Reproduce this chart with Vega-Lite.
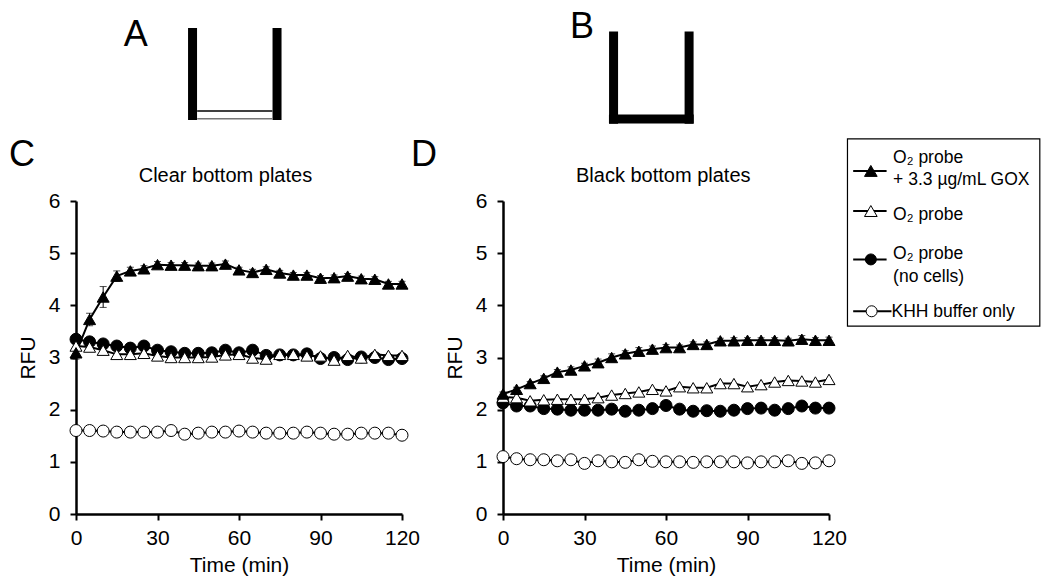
{
  "$schema": "https://vega.github.io/schema/vega-lite/v6.json",
  "padding": {"left": 8, "top": 8, "right": 2, "bottom": 2},
  "background": "white",
  "bounds": "flush",
  "spacing": 101,
  "config": {
    "view": {"stroke": null},
    "font": "Liberation Sans",
    "text": {"font": "Liberation Sans", "color": "black"},
    "axis": {
      "grid": false, "domainColor": "black", "domainWidth": 2.5, "tickColor": "black", "tickWidth": 2, "tickSize": 6,
      "labelFont": "Liberation Sans", "labelFontSize": 21, "labelColor": "black", "labelFlush": false,
      "titleFont": "Liberation Sans", "titleFontSize": 21, "titleFontWeight": "normal", "titleColor": "black"
    },
    "axisX": {"labelPadding": 7, "titlePadding": 6},
    "axisY": {"labelPadding": 10, "titlePadding": 10}
  },
  "data": {"values": [
    {"plate":"clear","t":0,"gox":3.09,"e":0.12,"probe":3.22,"nocells":3.35,"khh":1.60},
    {"plate":"clear","t":5,"gox":3.73,"e":0.12,"probe":3.20,"nocells":3.30,"khh":1.60},
    {"plate":"clear","t":10,"gox":4.16,"e":0.2,"probe":3.14,"nocells":3.26,"khh":1.59},
    {"plate":"clear","t":15,"gox":4.56,"e":0.1,"probe":3.06,"nocells":3.22,"khh":1.57},
    {"plate":"clear","t":20,"gox":4.66,"e":0.07,"probe":3.06,"nocells":3.18,"khh":1.57},
    {"plate":"clear","t":25,"gox":4.70,"e":0.06,"probe":3.08,"nocells":3.22,"khh":1.57},
    {"plate":"clear","t":30,"gox":4.78,"e":0.06,"probe":3.03,"nocells":3.14,"khh":1.57},
    {"plate":"clear","t":35,"gox":4.77,"e":0.05,"probe":3.00,"nocells":3.11,"khh":1.60},
    {"plate":"clear","t":40,"gox":4.77,"e":0.05,"probe":3.00,"nocells":3.08,"khh":1.53},
    {"plate":"clear","t":45,"gox":4.76,"e":0.05,"probe":3.00,"nocells":3.08,"khh":1.55},
    {"plate":"clear","t":50,"gox":4.76,"e":0.05,"probe":3.01,"nocells":3.09,"khh":1.57},
    {"plate":"clear","t":55,"gox":4.79,"e":0.06,"probe":3.05,"nocells":3.14,"khh":1.57},
    {"plate":"clear","t":60,"gox":4.68,"e":0.05,"probe":3.06,"nocells":3.09,"khh":1.59},
    {"plate":"clear","t":65,"gox":4.63,"e":0.06,"probe":2.99,"nocells":3.14,"khh":1.57},
    {"plate":"clear","t":70,"gox":4.69,"e":0.05,"probe":2.97,"nocells":3.04,"khh":1.55},
    {"plate":"clear","t":75,"gox":4.62,"e":0.05,"probe":3.06,"nocells":3.05,"khh":1.55},
    {"plate":"clear","t":80,"gox":4.58,"e":0.05,"probe":3.06,"nocells":3.05,"khh":1.55},
    {"plate":"clear","t":85,"gox":4.58,"e":0.05,"probe":3.03,"nocells":3.07,"khh":1.57},
    {"plate":"clear","t":90,"gox":4.52,"e":0.05,"probe":3.03,"nocells":2.98,"khh":1.55},
    {"plate":"clear","t":95,"gox":4.53,"e":0.05,"probe":2.95,"nocells":3.00,"khh":1.53},
    {"plate":"clear","t":100,"gox":4.56,"e":0.05,"probe":3.04,"nocells":2.96,"khh":1.53},
    {"plate":"clear","t":105,"gox":4.51,"e":0.05,"probe":2.99,"nocells":3.01,"khh":1.55},
    {"plate":"clear","t":110,"gox":4.50,"e":0.05,"probe":3.06,"nocells":3.00,"khh":1.55},
    {"plate":"clear","t":115,"gox":4.41,"e":0.05,"probe":3.04,"nocells":2.96,"khh":1.55},
    {"plate":"clear","t":120,"gox":4.41,"e":0.05,"probe":3.04,"nocells":2.98,"khh":1.51},
    {"plate":"black","t":0,"gox":2.30,"e":0.04,"probe":2.24,"nocells":2.13,"khh":1.10},
    {"plate":"black","t":5,"gox":2.39,"e":0.04,"probe":2.23,"nocells":2.07,"khh":1.06},
    {"plate":"black","t":10,"gox":2.50,"e":0.04,"probe":2.17,"nocells":2.07,"khh":1.04},
    {"plate":"black","t":15,"gox":2.60,"e":0.05,"probe":2.19,"nocells":2.02,"khh":1.04},
    {"plate":"black","t":20,"gox":2.72,"e":0.05,"probe":2.20,"nocells":2.01,"khh":1.02},
    {"plate":"black","t":25,"gox":2.76,"e":0.06,"probe":2.20,"nocells":1.99,"khh":1.04},
    {"plate":"black","t":30,"gox":2.84,"e":0.05,"probe":2.20,"nocells":1.99,"khh":0.97},
    {"plate":"black","t":35,"gox":2.90,"e":0.07,"probe":2.23,"nocells":1.99,"khh":1.02},
    {"plate":"black","t":40,"gox":3.00,"e":0.07,"probe":2.28,"nocells":2.01,"khh":1.00},
    {"plate":"black","t":45,"gox":3.07,"e":0.06,"probe":2.31,"nocells":1.97,"khh":0.99},
    {"plate":"black","t":50,"gox":3.12,"e":0.07,"probe":2.34,"nocells":1.99,"khh":1.04},
    {"plate":"black","t":55,"gox":3.16,"e":0.06,"probe":2.39,"nocells":2.02,"khh":1.01},
    {"plate":"black","t":60,"gox":3.19,"e":0.06,"probe":2.36,"nocells":2.08,"khh":1.00},
    {"plate":"black","t":65,"gox":3.19,"e":0.05,"probe":2.44,"nocells":2.01,"khh":1.00},
    {"plate":"black","t":70,"gox":3.25,"e":0.05,"probe":2.42,"nocells":1.97,"khh":0.99},
    {"plate":"black","t":75,"gox":3.25,"e":0.05,"probe":2.42,"nocells":1.98,"khh":1.00},
    {"plate":"black","t":80,"gox":3.32,"e":0.05,"probe":2.50,"nocells":1.97,"khh":1.00},
    {"plate":"black","t":85,"gox":3.32,"e":0.06,"probe":2.50,"nocells":1.99,"khh":1.00},
    {"plate":"black","t":90,"gox":3.33,"e":0.05,"probe":2.44,"nocells":2.02,"khh":0.98},
    {"plate":"black","t":95,"gox":3.33,"e":0.05,"probe":2.48,"nocells":2.03,"khh":1.00},
    {"plate":"black","t":100,"gox":3.33,"e":0.05,"probe":2.53,"nocells":1.99,"khh":1.00},
    {"plate":"black","t":105,"gox":3.32,"e":0.05,"probe":2.56,"nocells":2.02,"khh":1.02},
    {"plate":"black","t":110,"gox":3.35,"e":0.07,"probe":2.55,"nocells":2.07,"khh":0.97},
    {"plate":"black","t":115,"gox":3.33,"e":0.05,"probe":2.53,"nocells":2.03,"khh":0.98},
    {"plate":"black","t":120,"gox":3.33,"e":0.06,"probe":2.58,"nocells":2.03,"khh":1.02}
  ]},
  "hconcat": [
    {
      "width": 326, "height": 313,
      "layer": [
        {"data": {"values": [{}]}, "mark": {"type": "text", "text": "A", "fontSize": 36, "align": "center", "baseline": "alphabetic"},
         "encoding": {"x": {"datum": 22, "type": "quantitative"}, "y": {"datum": 8.97, "type": "quantitative"}}},
        {"data": {"values": [{}]}, "mark": {"type": "rule", "color": "black", "strokeWidth": 9},
         "encoding": {"x": {"datum": 42.9, "type": "quantitative"}, "y": {"datum": 7.552, "type": "quantitative"}, "y2": {"datum": 9.316}}},
        {"data": {"values": [{}]}, "mark": {"type": "rule", "color": "black", "strokeWidth": 9},
         "encoding": {"x": {"datum": 74.0, "type": "quantitative"}, "y": {"datum": 7.552, "type": "quantitative"}, "y2": {"datum": 9.316}}},
        {"data": {"values": [{}]}, "mark": {"type": "rule", "color": "black", "strokeWidth": 1.5},
         "encoding": {"x": {"datum": 44.6, "type": "quantitative"}, "x2": {"datum": 72.3}, "y": {"datum": 7.725, "type": "quantitative"}}},
        {"data": {"values": [{}]}, "mark": {"type": "rule", "color": "#777777", "strokeWidth": 1.5},
         "encoding": {"x": {"datum": 44.6, "type": "quantitative"}, "x2": {"datum": 72.3}, "y": {"datum": 7.575, "type": "quantitative"}}},
        {"data": {"values": [{}]}, "mark": {"type": "text", "text": "C", "fontSize": 36, "align": "center", "baseline": "alphabetic"},
         "encoding": {"x": {"datum": -19.9, "type": "quantitative"}, "y": {"datum": 6.67, "type": "quantitative"}}},
        {"data": {"values": [{}]}, "mark": {"type": "text", "text": "Clear bottom plates", "fontSize": 20, "align": "center", "baseline": "alphabetic"},
         "encoding": {"x": {"datum": 55, "type": "quantitative"}, "y": {"datum": 6.36, "type": "quantitative"}}},
        {
          "transform": [{"filter": {"field": "plate", "equal": "clear"}}, {"fold": ["khh", "nocells", "probe", "gox"], "as": ["series", "v"]}],
          "mark": {"type": "line", "color": "black", "strokeWidth": 2},
          "encoding": {
            "x": {"field": "t", "type": "quantitative", "title": "Time (min)", "scale": {"domain": [0, 120], "nice": false}, "axis": {"values": [0, 30, 60, 90, 120]}},
            "y": {"field": "v", "type": "quantitative", "title": "RFU", "scale": {"domain": [0, 6], "nice": false}, "axis": {"values": [0, 1, 2, 3, 4, 5, 6]}},
            "detail": {"field": "series"}
          }
        },
        {
          "transform": [{"filter": {"field": "plate", "equal": "clear"}}],
          "mark": {"type": "errorbar", "ticks": {"size": 7, "color": "black", "thickness": 1}, "rule": {"color": "black", "strokeWidth": 1}},
          "encoding": {
            "x": {"field": "t", "type": "quantitative", "title": "Time (min)"},
            "y": {"field": "gox", "type": "quantitative", "title": "RFU"},
            "yError": {"field": "e"}
          }
        },
        {
          "transform": [{"filter": {"field": "plate", "equal": "clear"}}, {"fold": ["khh", "nocells", "probe", "gox"], "as": ["series", "v"]}],
          "mark": {"type": "point", "filled": true, "stroke": "black", "strokeWidth": 1, "opacity": 1},
          "encoding": {
            "x": {"field": "t", "type": "quantitative", "title": "Time (min)"},
            "y": {"field": "v", "type": "quantitative", "title": "RFU"},
            "shape": {"field": "series", "type": "nominal", "scale": {"domain": ["gox", "probe", "nocells", "khh"], "range": ["triangle-up", "triangle-up", "circle", "circle"]}, "legend": null},
            "fill": {"field": "series", "type": "nominal", "scale": {"domain": ["gox", "probe", "nocells", "khh"], "range": ["black", "white", "black", "white"]}, "legend": null},
            "size": {"field": "series", "type": "nominal", "scale": {"domain": ["gox", "probe", "nocells", "khh"], "range": [144, 144, 105, 105]}, "legend": null}
          }
        }
      ]
    },
    {
      "width": 326, "height": 313,
      "layer": [
        {"data": {"values": [{}]}, "mark": {"type": "text", "text": "B", "fontSize": 36, "align": "center", "baseline": "alphabetic"},
         "encoding": {"x": {"datum": 29.1, "type": "quantitative"}, "y": {"datum": 9.13, "type": "quantitative"}}},
        {"data": {"values": [{}]}, "mark": {"type": "rule", "color": "black", "strokeWidth": 9},
         "encoding": {"x": {"datum": 40.7, "type": "quantitative"}, "y": {"datum": 7.48, "type": "quantitative"}, "y2": {"datum": 9.25}}},
        {"data": {"values": [{}]}, "mark": {"type": "rule", "color": "black", "strokeWidth": 9},
         "encoding": {"x": {"datum": 68.5, "type": "quantitative"}, "y": {"datum": 7.48, "type": "quantitative"}, "y2": {"datum": 9.25}}},
        {"data": {"values": [{}]}, "mark": {"type": "rule", "color": "black", "strokeWidth": 9},
         "encoding": {"x": {"datum": 39.0, "type": "quantitative"}, "x2": {"datum": 70.2}, "y": {"datum": 7.57, "type": "quantitative"}}},
        {"data": {"values": [{}]}, "mark": {"type": "text", "text": "D", "fontSize": 36, "align": "center", "baseline": "alphabetic"},
         "encoding": {"x": {"datum": -29.1, "type": "quantitative"}, "y": {"datum": 6.68, "type": "quantitative"}}},
        {"data": {"values": [{}]}, "mark": {"type": "text", "text": "Black bottom plates", "fontSize": 20, "align": "center", "baseline": "alphabetic"},
         "encoding": {"x": {"datum": 59, "type": "quantitative"}, "y": {"datum": 6.365, "type": "quantitative"}}},
        {
          "transform": [{"filter": {"field": "plate", "equal": "black"}}, {"fold": ["khh", "nocells", "probe", "gox"], "as": ["series", "v"]}],
          "mark": {"type": "line", "color": "black", "strokeWidth": 2},
          "encoding": {
            "x": {"field": "t", "type": "quantitative", "title": "Time (min)", "scale": {"domain": [0, 120], "nice": false}, "axis": {"values": [0, 30, 60, 90, 120]}},
            "y": {"field": "v", "type": "quantitative", "title": "RFU", "scale": {"domain": [0, 6], "nice": false}, "axis": {"values": [0, 1, 2, 3, 4, 5, 6]}},
            "detail": {"field": "series"}
          }
        },
        {
          "transform": [{"filter": {"field": "plate", "equal": "black"}}],
          "mark": {"type": "errorbar", "ticks": {"size": 7, "color": "black", "thickness": 1}, "rule": {"color": "black", "strokeWidth": 1}},
          "encoding": {
            "x": {"field": "t", "type": "quantitative", "title": "Time (min)"},
            "y": {"field": "gox", "type": "quantitative", "title": "RFU"},
            "yError": {"field": "e"}
          }
        },
        {
          "transform": [{"filter": {"field": "plate", "equal": "black"}}, {"fold": ["khh", "nocells", "probe", "gox"], "as": ["series", "v"]}],
          "mark": {"type": "point", "filled": true, "stroke": "black", "strokeWidth": 1, "opacity": 1},
          "encoding": {
            "x": {"field": "t", "type": "quantitative", "title": "Time (min)"},
            "y": {"field": "v", "type": "quantitative", "title": "RFU"},
            "shape": {"field": "series", "type": "nominal", "scale": {"domain": ["gox", "probe", "nocells", "khh"], "range": ["triangle-up", "triangle-up", "circle", "circle"]}, "legend": null},
            "fill": {"field": "series", "type": "nominal", "scale": {"domain": ["gox", "probe", "nocells", "khh"], "range": ["black", "white", "black", "white"]}, "legend": null},
            "size": {"field": "series", "type": "nominal", "scale": {"domain": ["gox", "probe", "nocells", "khh"], "range": [144, 144, 105, 105]}, "legend": null}
          }
        },
        {"data": {"values": [{}]}, "mark": {"type": "rect", "filled": false, "stroke": "black", "strokeWidth": 1.2},
         "encoding": {"x": {"datum": 126.8, "type": "quantitative"}, "x2": {"datum": 197.6}, "y": {"datum": 3.6, "type": "quantitative"}, "y2": {"datum": 7.19}}},
        {"data": {"values": [{}]}, "mark": {"type": "rule", "color": "black", "strokeWidth": 2},
         "encoding": {"x": {"datum": 128.9, "type": "quantitative"}, "x2": {"datum": 141.2}, "y": {"datum": 6.577, "type": "quantitative"}}},
        {"data": {"values": [{}]}, "mark": {"type": "point", "shape": "triangle-up", "filled": true, "fill": "black", "stroke": "black", "strokeWidth": 1, "size": 160, "opacity": 1},
         "encoding": {"x": {"datum": 135.4, "type": "quantitative"}, "y": {"datum": 6.577, "type": "quantitative"}}},
        {"data": {"values": [{}]}, "mark": {"type": "text", "text": "O₂ probe\n+ 3.3 µg/mL GOX", "lineBreak": "\n", "lineHeight": 22, "fontSize": 17.5, "align": "left", "baseline": "alphabetic"},
         "encoding": {"x": {"datum": 143.6, "type": "quantitative"}, "y": {"datum": 6.736, "type": "quantitative"}}},
        {"data": {"values": [{}]}, "mark": {"type": "rule", "color": "black", "strokeWidth": 2},
         "encoding": {"x": {"datum": 128.9, "type": "quantitative"}, "x2": {"datum": 141.2}, "y": {"datum": 5.808, "type": "quantitative"}}},
        {"data": {"values": [{}]}, "mark": {"type": "point", "shape": "triangle-up", "filled": true, "fill": "white", "stroke": "black", "strokeWidth": 1, "size": 160, "opacity": 1},
         "encoding": {"x": {"datum": 135.4, "type": "quantitative"}, "y": {"datum": 5.808, "type": "quantitative"}}},
        {"data": {"values": [{}]}, "mark": {"type": "text", "text": "O₂ probe", "fontSize": 17.5, "align": "left", "baseline": "alphabetic"},
         "encoding": {"x": {"datum": 143.6, "type": "quantitative"}, "y": {"datum": 5.635, "type": "quantitative"}}},
        {"data": {"values": [{}]}, "mark": {"type": "rule", "color": "black", "strokeWidth": 2},
         "encoding": {"x": {"datum": 128.9, "type": "quantitative"}, "x2": {"datum": 141.2}, "y": {"datum": 4.88, "type": "quantitative"}}},
        {"data": {"values": [{}]}, "mark": {"type": "point", "shape": "circle", "filled": true, "fill": "black", "stroke": "black", "strokeWidth": 1, "size": 121, "opacity": 1},
         "encoding": {"x": {"datum": 135.4, "type": "quantitative"}, "y": {"datum": 4.88, "type": "quantitative"}}},
        {"data": {"values": [{}]}, "mark": {"type": "text", "text": "O₂ probe\n(no cells)", "lineBreak": "\n", "lineHeight": 23, "fontSize": 17.5, "align": "left", "baseline": "alphabetic"},
         "encoding": {"x": {"datum": 143.6, "type": "quantitative"}, "y": {"datum": 4.886, "type": "quantitative"}}},
        {"data": {"values": [{}]}, "mark": {"type": "rule", "color": "black", "strokeWidth": 2},
         "encoding": {"x": {"datum": 128.9, "type": "quantitative"}, "x2": {"datum": 143.0}, "y": {"datum": 3.886, "type": "quantitative"}}},
        {"data": {"values": [{}]}, "mark": {"type": "point", "shape": "circle", "filled": true, "fill": "white", "stroke": "black", "strokeWidth": 1, "size": 121, "opacity": 1},
         "encoding": {"x": {"datum": 135.7, "type": "quantitative"}, "y": {"datum": 3.886, "type": "quantitative"}}},
        {"data": {"values": [{}]}, "mark": {"type": "text", "text": "KHH buffer only", "fontSize": 17.5, "align": "left", "baseline": "alphabetic"},
         "encoding": {"x": {"datum": 143.0, "type": "quantitative"}, "y": {"datum": 3.771, "type": "quantitative"}}}
      ]
    }
  ]
}
